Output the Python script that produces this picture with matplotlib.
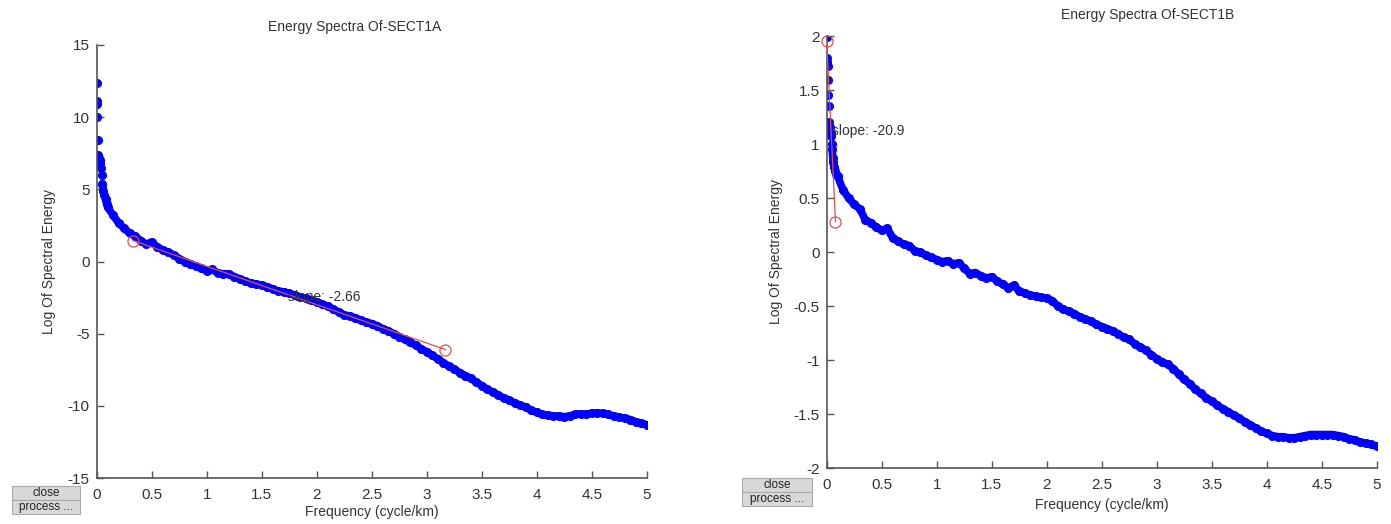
import numpy as np
import matplotlib
matplotlib.use("Agg")
import matplotlib.pyplot as plt
from matplotlib.patches import Rectangle

plt.rcParams['font.family'] = ['Liberation Sans', 'DejaVu Sans']
plt.rcParams['axes.unicode_minus'] = False

# ---------------- data ----------------
titles = ["Energy Spectra Of-SECT1A", "Energy Spectra Of-SECT1B"]
xlabel = "Frequency (cycle/km)"
ylabel = "Log Of Spectral Energy"
xticks = [0, 0.5, 1, 1.5, 2, 2.5, 3, 3.5, 4, 4.5, 5]
xtick_labels = ["0", "0.5", "1", "1.5", "2", "2.5", "3", "3.5", "4", "4.5", "5"]
yticks_a = [-15, -10, -5, 0, 5, 10, 15]
ytick_labels_a = ["-15", "-10", "-5", "0", "5", "10", "15"]
yticks_b = [-2, -1.5, -1, -0.5, 0, 0.5, 1, 1.5, 2]
ytick_labels_b = ["-2", "-1.5", "-1", "-0.5", "0", "0.5", "1", "1.5", "2"]

# SECT1A: low-frequency points (irregular), then points every 0.05 from 0.10
freq_a_head = [0.0, 0.002, 0.004, 0.006, 0.01, 0.016, 0.022, 0.028, 0.034, 0.04,
               0.046, 0.052, 0.06, 0.07, 0.08, 0.09]
energy_a_head = [12.4, 11.1, 10.9, 10.0, 8.4, 7.4, 7.2, 7.0, 6.8, 6.5,
                 6.0, 5.4, 4.9, 4.6, 4.3, 4.0]
energy_a_body = [3.75, 3.2, 2.65, 2.3, 1.95, 1.75, 1.45, 1.2, 1.35, 1.0,
                 0.8, 0.65, 0.45, 0.2, 0.0, -0.15, -0.3, -0.45, -0.65, -0.55,
                 -0.8, -0.85, -0.85, -1.05, -1.2, -1.35, -1.5, -1.55, -1.65, -1.75,
                 -1.9, -2.05, -2.1, -2.2, -2.35, -2.45, -2.55, -2.65, -2.8, -2.95,
                 -3.1, -3.3, -3.5, -3.7, -3.8, -3.9, -4.05, -4.2, -4.3, -4.45,
                 -4.65, -4.8, -5.0, -5.2, -5.4, -5.6, -5.8, -6.05, -6.25, -6.5,
                 -6.75, -7.0, -7.25, -7.45, -7.7, -7.9, -8.1, -8.35, -8.6, -8.85,
                 -9.05, -9.25, -9.45, -9.6, -9.8, -9.95, -10.1, -10.3, -10.45, -10.6,
                 -10.65, -10.7, -10.72, -10.75, -10.7, -10.6, -10.55, -10.6, -10.5, -10.5,
                 -10.52, -10.6, -10.7, -10.8, -10.85, -10.95, -11.1, -11.2, -11.3]
fit_a_freq = [0.33, 3.17]
fit_a_energy = [1.45, -6.1]
slope_a_text = "slope: -2.66"

# SECT1B
freq_b_head = [0.0, 0.003, 0.006, 0.009, 0.012, 0.015, 0.02, 0.025, 0.03, 0.035,
               0.04, 0.045, 0.05, 0.055, 0.06, 0.066, 0.075, 0.085]
energy_b_head = [1.99, 1.8, 1.76, 1.72, 1.59, 1.45, 1.35, 1.2, 1.16, 1.1,
                 1.07, 1.0, 0.95, 0.87, 0.83, 0.79, 0.75, 0.72]
energy_b_body = [0.70, 0.57, 0.50, 0.44, 0.40, 0.30, 0.27, 0.23, 0.20, 0.22,
                 0.13, 0.10, 0.07, 0.06, 0.01, 0.0, -0.03, -0.05, -0.07, -0.09,
                 -0.08, -0.11, -0.10, -0.15, -0.20, -0.19, -0.22, -0.24, -0.23, -0.27,
                 -0.30, -0.33, -0.31, -0.36, -0.38, -0.40, -0.41, -0.42, -0.43, -0.45,
                 -0.50, -0.53, -0.55, -0.57, -0.60, -0.62, -0.64, -0.67, -0.69, -0.71,
                 -0.73, -0.76, -0.79, -0.81, -0.85, -0.88, -0.91, -0.95, -0.99, -1.02,
                 -1.04, -1.08, -1.13, -1.18, -1.22, -1.27, -1.31, -1.35, -1.38, -1.42,
                 -1.45, -1.48, -1.51, -1.54, -1.57, -1.60, -1.63, -1.66, -1.68, -1.70,
                 -1.71, -1.71, -1.72, -1.72, -1.71, -1.70, -1.69, -1.69, -1.69, -1.69,
                 -1.69, -1.70, -1.71, -1.73, -1.74, -1.76, -1.77, -1.78, -1.80]
fit_b_freq = [0.0, 0.08]
fit_b_energy = [1.95, 0.28]
slope_b_text = "slope: -20.9"

body_start, body_step = 0.10, 0.05
freq_a = np.concatenate([freq_a_head, body_start + body_step * np.arange(len(energy_a_body))])
energy_a = np.concatenate([energy_a_head, energy_a_body])
freq_b = np.concatenate([freq_b_head, body_start + body_step * np.arange(len(energy_b_body))])
energy_b = np.concatenate([energy_b_head, energy_b_body])

# ---------------- figure ----------------
W, H = 1391, 524
fig = plt.figure(figsize=(W / 100, H / 100), dpi=100)

def fx(px):
    return px / W

def fy(py):
    return 1 - py / H

axA = fig.add_axes([fx(96.7), fy(478), fx(550), (478 - 45) / H])
axB = fig.add_axes([fx(826.7), fy(468), fx(550), (468 - 36) / H])

axis_col = "#555555"
text_col = "#333333"
blue = "#0000ff"
red = "#d9534f"
fs = 10

panels = [
    (axA, freq_a, energy_a, fit_a_freq, fit_a_energy, slope_a_text, (1.74, -2.45),
     (-15, 15), yticks_a, ytick_labels_a),
    (axB, freq_b, energy_b, fit_b_freq, fit_b_energy, slope_b_text, (0.05, 1.12),
     (-2, 2), yticks_b, ytick_labels_b),
]

for ax, fr, en, ffr, fen, stext, spos, ylim, yt, ytl in panels:
    dense = fr >= 0.05
    ax.plot(fr[dense], en[dense], color=blue, linewidth=5.5, solid_capstyle='round',
            solid_joinstyle='round', zorder=2)
    ax.plot(fr, en, linestyle='none', marker='o', markersize=5.5,
            markerfacecolor=blue, markeredgecolor=blue, zorder=2)
    ax.plot(ffr, fen, color=red, linewidth=0.9, marker='o', markersize=8,
            markerfacecolor='none', markeredgecolor=red, markeredgewidth=0.9,
            zorder=3, clip_on=False)
    ax.text(spos[0], spos[1], stext, fontsize=fs, color=text_col, va='center', ha='left', zorder=4)
    ax.set_xlim(0, 5)
    ax.set_ylim(*ylim)
    ax.set_xticks(xticks)
    ax.set_xticklabels(xtick_labels)
    ax.set_yticks(yt)
    ax.set_yticklabels(ytl)
    for s in ['top', 'right']:
        ax.spines[s].set_visible(False)
    for s in ['left', 'bottom']:
        ax.spines[s].set_color(axis_col)
        ax.spines[s].set_linewidth(1.2)
    ax.tick_params(direction='in', length=5, width=1.0, color=axis_col,
                   labelsize=fs + 1, labelcolor=text_col, pad=5)
    ax.tick_params(axis='x', pad=7)
    ax.set_xlabel(xlabel, fontsize=fs, color=text_col)
    ax.set_ylabel(ylabel, fontsize=fs, color=text_col)
    ax.patch.set_alpha(0)

axA.xaxis.set_label_coords(0.5, -0.063)
axB.xaxis.set_label_coords(0.5, -0.070)
axA.yaxis.set_label_coords(-0.074, 0.5)
axB.yaxis.set_label_coords(-0.080, 0.5)

fig.text(fx(355), fy(27), titles[0], fontsize=fs, color=text_col, ha='center', va='center')
fig.text(fx(1148), fy(15), titles[1], fontsize=fs, color=text_col, ha='center', va='center')

# MATLAB-style buttons
def button(x0, y0, w, h, label):
    fig.add_artist(Rectangle((fx(x0), fy(y0 + h)), fx(w), h / H, transform=fig.transFigure,
                             facecolor='#d8d8d8', edgecolor='#aaaaaa', linewidth=0.8))
    fig.text(fx(x0 + w / 2), fy(y0 + h / 2), label, fontsize=8.5, color='#222222',
             ha='center', va='center')

button(12, 486, 68, 14, "close")
button(12, 500, 68, 14, "process ...")
button(742, 478, 70, 14, "close")
button(742, 492, 70, 14, "process ...")

fig.savefig("out.png", dpi=100, facecolor='white')
